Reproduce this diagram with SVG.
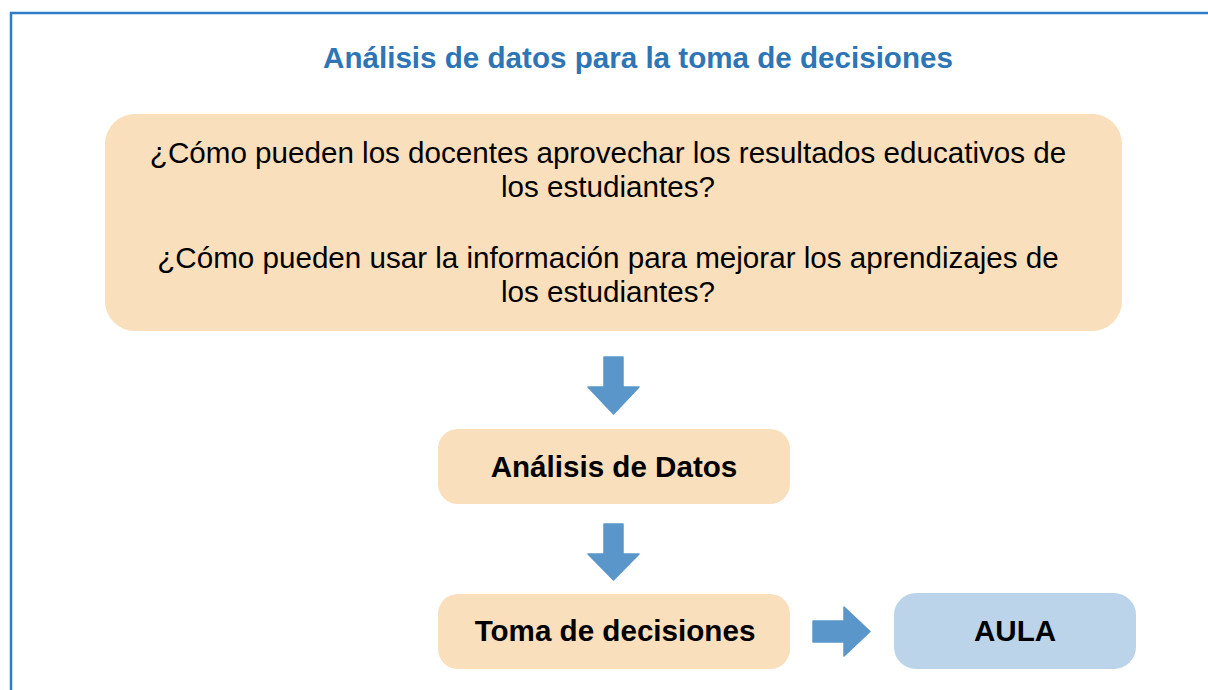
<svg xmlns="http://www.w3.org/2000/svg" width="1208" height="690" viewBox="0 0 1208 690">
<style>
.peach{fill:#f9dfbb}
.blue{fill:#bcd4ea}
.arr{fill:#5a96ca}
.t{font-family:"Liberation Sans",Arial,sans-serif;font-size:29.6px;fill:#000;text-anchor:middle}
.b{font-weight:bold}
.title{font-family:"Liberation Sans",Arial,sans-serif;font-size:29.6px;font-weight:bold;fill:#2e75b6;text-anchor:middle}
</style>
<rect width="1208" height="690" fill="#fff"/>
<path d="M11,700 V13 H1220" fill="none" stroke="#2e7bc6" stroke-width="2.5"/>
<text class="title" x="638" y="68">Análisis de datos para la toma de decisiones</text>
<g id="preguntas">
<rect class="peach" x="105" y="114" width="1017" height="217" rx="30"/>
<text class="t" x="608" y="163">¿Cómo pueden los docentes aprovechar los resultados educativos de</text>
<text class="t" x="608" y="197">los estudiantes?</text>
<text class="t" x="608" y="268">¿Cómo pueden usar la información para mejorar los aprendizajes de</text>
<text class="t" x="608" y="302">los estudiantes?</text>
</g>
<g id="analisis">
<rect class="peach" x="438" y="429" width="352" height="75" rx="20"/>
<text class="t b" x="614" y="477">Análisis de Datos</text>
</g>
<g id="toma">
<rect class="peach" x="438" y="594" width="352" height="75" rx="20"/>
<text class="t b" x="615" y="641">Toma de decisiones</text>
</g>
<g id="aula">
<rect class="blue" x="894" y="593" width="242" height="76" rx="22"/>
<text class="t b" x="1015" y="641">AULA</text>
</g>
<g id="connectors">
<path class="arr" stroke="#5a96ca" stroke-width="1.5" stroke-linejoin="round" d="M604,357 H623 V387 H639 L613.5,414 L588,387 H604 Z"/>
<path class="arr" stroke="#5a96ca" stroke-width="1.5" stroke-linejoin="round" d="M604,524 H623 V554 H639 L613.5,580 L588,554 H604 Z"/>
<path class="arr" stroke="#5a96ca" stroke-width="1.5" stroke-linejoin="round" d="M813,621 H844 V607 L870,631.5 L844,656 V642 H813 Z"/>
</g>
</svg>
